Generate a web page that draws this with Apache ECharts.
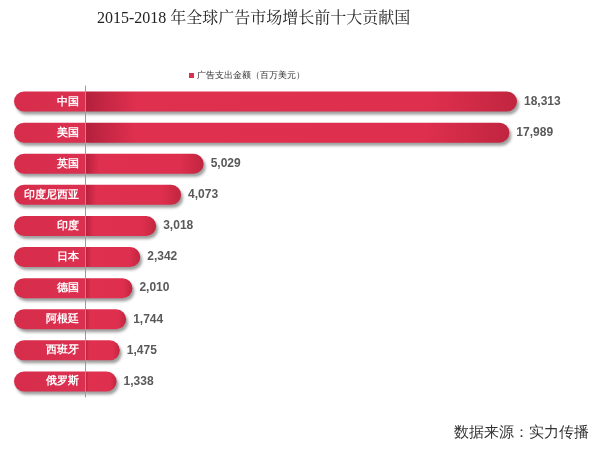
<!DOCTYPE html>
<html><head><meta charset="utf-8">
<script src="https://cdn.jsdelivr.net/npm/echarts@6/dist/echarts.min.js"></script>
<style>html,body{margin:0;padding:0;background:#fff}#c{width:600px;height:452px}</style>
</head><body><div id="c"></div>
<script>
const categories = ['中国','美国','英国','印度尼西亚','印度','日本','德国','阿根廷','西班牙','俄罗斯'];
const values = [18313, 17989, 5029, 4073, 3018, 2342, 2010, 1744, 1475, 1338];
const seriesName = '广告支出金额（百万美元）';
const titleText = '2015-2018 年全球广告市场增长前十大贡献国';
const sourceText = '数据来源：实力传播';
const pillValue = -3010;

const chart = echarts.init(document.getElementById('c'));
const shadow = {shadowColor:'rgba(0,0,0,0.38)', shadowBlur:3, shadowOffsetX:2, shadowOffsetY:3};
chart.setOption({
  animation:false,
  title:[
    {text:titleText, left:92, top:6, textStyle:{fontFamily:"'Liberation Serif','Noto Serif CJK SC',serif", fontSize:16, fontWeight:'normal', color:'#222'}},
    {text:sourceText, right:6, bottom:6, textStyle:{fontFamily:"'Liberation Serif',serif", fontSize:15, fontWeight:'normal', color:'#333'}}
  ],
  legend:{
    top:66, left:184, icon:'rect', itemWidth:5, itemHeight:5, itemGap:4,
    data:[{name:seriesName, itemStyle:{color:'#d9304f'}}],
    textStyle:{fontSize:9, color:'#333', padding:[0,0,0,-2]}
  },
  grid:{left:14, right:43.2, top:86, bottom:55, containLabel:false, outerBoundsMode:'none'},
  xAxis:{type:'value', min:pillValue, max:20000, show:false},
  yAxis:{
    type:'category', data:categories, inverse:true,
    axisLine:{show:true, onZero:true, lineStyle:{color:'#9a9a9a', width:1}},
    axisTick:{show:false},
    axisLabel:{show:false},
    z:10
  },
  series:[
    {
      type:'bar', stack:'s', barWidth:20, silent:true,
      data:categories.map(()=>pillValue),
      itemStyle:Object.assign({
        color:{type:'linear',x:0,y:0,x2:1,y2:0,colorStops:[{offset:0,color:'#d62d4b'},{offset:1,color:'#dc3050'}]},
        borderRadius:[10,0,0,10]
      }, shadow),
      label:{show:true, position:'insideRight', distance:6, color:'#fff', fontSize:11, fontWeight:'bold',
        formatter:p=>p.name}
    },
    {
      name:seriesName, type:'bar', stack:'s', barWidth:20,
      data:values,
      itemStyle:Object.assign({
        color:{type:'linear',x:0,y:0,x2:1,y2:0,colorStops:[
          {offset:0,color:'#b3203c'},{offset:0.12,color:'#e0304f'},{offset:0.8,color:'#de2f4e'},{offset:1,color:'#c1253f'}]},
        borderRadius:[0,10,10,0]
      }, shadow),
      label:{show:true, position:'right', distance:7, color:'#595959', fontSize:12, fontWeight:'bold',
        fontFamily:"'Liberation Sans',Arial,sans-serif",
        formatter:p=>p.value.toLocaleString('en-US')}
    }
  ]
});
</script></body></html>
